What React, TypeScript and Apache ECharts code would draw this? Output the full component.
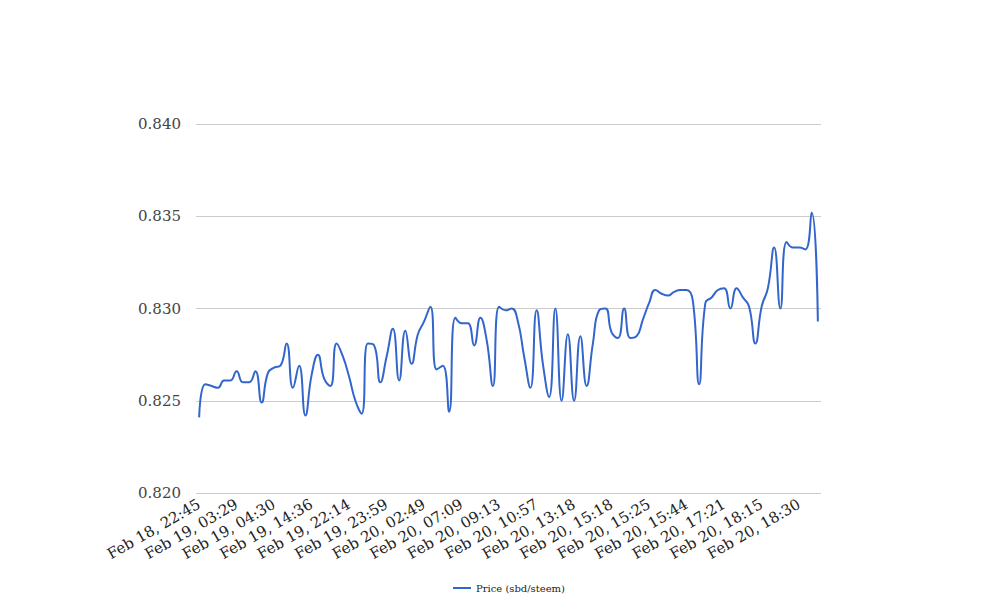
import React, { useEffect, useRef } from "react";
import * as echarts from "echarts";

const timeLabels: string[] = [
  "Feb 18, 22:45", "Feb 19, 03:29", "Feb 19, 04:30", "Feb 19, 14:36", "Feb 19, 22:14",
  "Feb 19, 23:59", "Feb 20, 02:49", "Feb 20, 07:09", "Feb 20, 09:13", "Feb 20, 10:57",
  "Feb 20, 13:18", "Feb 20, 15:18", "Feb 20, 15:25", "Feb 20, 15:44", "Feb 20, 17:21",
  "Feb 20, 18:15", "Feb 20, 18:30",
];
const labelEvery = 6;

const prices: number[] = [
  0.8241, 0.8259, 0.8258, 0.8257, 0.8261, 0.8261, 0.8266, 0.8260, 0.8260, 0.8266,
  0.8249, 0.8265, 0.8268, 0.8269, 0.8281, 0.8257, 0.8269, 0.8242, 0.8264, 0.8275,
  0.8262, 0.8258, 0.8281, 0.8274, 0.8263, 0.8250, 0.8243, 0.8281, 0.8280, 0.8260,
  0.8274, 0.8289, 0.8261, 0.8288, 0.8270, 0.8286, 0.8293, 0.8301, 0.8267, 0.8269,
  0.8244, 0.8295, 0.8292, 0.8292, 0.8280, 0.8295, 0.8283, 0.8258, 0.8301, 0.8299,
  0.8300, 0.8293, 0.8274, 0.8257, 0.8299, 0.8270, 0.8252, 0.8300, 0.8250, 0.8286,
  0.8250, 0.8285, 0.8258, 0.8281, 0.8299, 0.8300, 0.8287, 0.8284, 0.8300, 0.8284,
  0.8285, 0.8294, 0.8303, 0.8310, 0.8308, 0.8307, 0.8309, 0.8310, 0.8310, 0.8304,
  0.8259, 0.8303, 0.8306, 0.8310, 0.8311, 0.8300, 0.8311, 0.8306, 0.8301, 0.8281,
  0.8301, 0.8311, 0.8333, 0.8300, 0.8336, 0.8333, 0.8333, 0.8332, 0.8352, 0.8293,
];

const categories: string[] = prices.map((_, i) =>
  i % labelEvery === 0 && timeLabels[i / labelEvery] ? timeLabels[i / labelEvery] : "pt" + i
);

const yMin = 0.82;
const yMax = 0.84;
const yStep = 0.005;
const seriesName = "Price (sbd/steem)";

export default function App() {
  const ref = useRef<HTMLDivElement>(null);
  useEffect(() => {
    if (!ref.current) return;
    const chart = echarts.init(ref.current, null, { renderer: "svg" });
    const font = "'DejaVu Serif', serif";
    chart.setOption({
      animation: false,
      backgroundColor: "#ffffff",
      textStyle: { fontFamily: font },
      grid: { left: 196, right: 187, top: 124, bottom: 123, containLabel: false },
      legend: {
        bottom: 18,
        left: 448,
        itemWidth: 18,
        itemHeight: 10,
        itemGap: 10,
        icon: "path://M0,4 L18,4 L18,6 L0,6 Z",
        textStyle: { fontFamily: font, fontSize: 10, color: "#222" },
        data: [seriesName],
      },
      xAxis: {
        type: "category",
        data: categories,
        boundaryGap: true,
        axisLine: { show: false },
        axisTick: { show: false },
        axisLabel: {
          rotate: 30,
          interval: (idx: number) => idx % labelEvery === 0,
          fontFamily: font,
          fontSize: 15,
          color: "#222",
          margin: 10,
        },
      },
      yAxis: {
        type: "value",
        min: yMin,
        max: yMax,
        interval: yStep,
        axisLine: { show: false },
        axisTick: { show: false },
        splitLine: { lineStyle: { color: "#cccccc", width: 1 } },
        axisLabel: {
          fontFamily: font,
          fontSize: 15,
          color: "#444",
          margin: 15,
          formatter: (v: number) => v.toFixed(3),
        },
      },
      series: [
        {
          name: seriesName,
          type: "line",
          data: prices,
          smooth: 0.5,
          showSymbol: false,
          symbol: "none",
          lineStyle: { color: "#3366cc", width: 2 },
          itemStyle: { color: "#3366cc" },
        },
      ],
    });
    return () => chart.dispose();
  }, []);
  return (
    <div
      ref={ref}
      style={{ position: "absolute", left: 0, top: 0, width: 1008, height: 616 }}
    />
  );
}
